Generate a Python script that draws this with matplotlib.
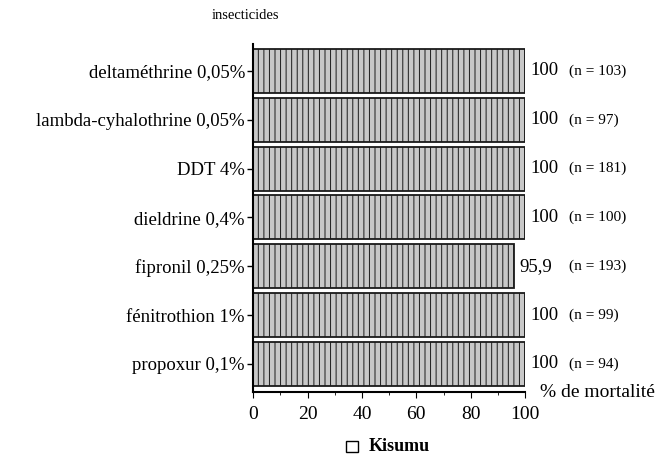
import matplotlib
matplotlib.use('Agg')
import matplotlib.pyplot as plt
from matplotlib.patches import Rectangle

plt.rcParams['font.family'] = ['Liberation Serif', 'DejaVu Serif']
plt.rcParams['hatch.color'] = '#a4a4a4'
plt.rcParams['hatch.linewidth'] = 0.7

# data (top to bottom)
insecticides = ['deltaméthrine 0,05%', 'lambda-cyhalothrine 0,05%', 'DDT 4%',
                'dieldrine 0,4%', 'fipronil 0,25%', 'fénitrothion 1%', 'propoxur 0,1%']
mortalite = [100, 100, 100, 100, 95.9, 100, 100]
effectifs = [103, 97, 181, 100, 193, 99, 94]
xticks = [0, 20, 40, 60, 80, 100]

fig = plt.figure(figsize=(6.63, 4.55), dpi=100)
ax = fig.add_axes([0.382, 0.138, 0.41, 0.765])

pos = list(range(len(insecticides)))[::-1]
ax.barh(pos, mortalite, height=0.9, color='#c8c8c8', edgecolor='#1a1a1a',
        linewidth=1.3, hatch='|||', zorder=2)

for p, v, n in zip(pos, mortalite, effectifs):
    lab = '100' if v == 100 else str(v).replace('.', ',')
    ax.text(v + 2, p, lab, va='center', ha='left', fontsize=13.5, clip_on=False)
    ax.text(116, p, '(n = %d)' % n, va='center', ha='left', fontsize=11, clip_on=False)

ax.set_xlim(0, 100)
ax.set_ylim(-0.58, 6.55)
ax.set_xticks(xticks)
ax.set_xticks(range(0, 101, 10), minor=True)
ax.set_xticklabels([str(t) for t in xticks], fontsize=14)
ax.set_yticks(pos)
ax.set_yticklabels(insecticides, fontsize=13.5)
ax.tick_params(axis='y', length=4, width=1, pad=2)
ax.tick_params(axis='x', which='major', direction='out', length=4, pad=6)
ax.tick_params(axis='x', which='minor', direction='out', length=2)

for s in ['top', 'right']:
    ax.spines[s].set_visible(False)
ax.spines['left'].set_linewidth(1.5)
ax.spines['bottom'].set_linewidth(1.5)

fig.text(0.32, 0.965, 'insecticides', fontsize=10.5, ha='left', va='center')
fig.text(0.815, 0.137, '% de mortalité', fontsize=14, ha='left', va='center')

# legend
fig.patches.append(Rectangle((0.522, 0.007), 0.018, 0.024, transform=fig.transFigure,
                             facecolor='white', edgecolor='black', linewidth=1))
fig.text(0.556, 0.018, 'Kisumu', fontsize=13, fontweight='bold', ha='left', va='center')

fig.savefig('out.png', dpi=100)
